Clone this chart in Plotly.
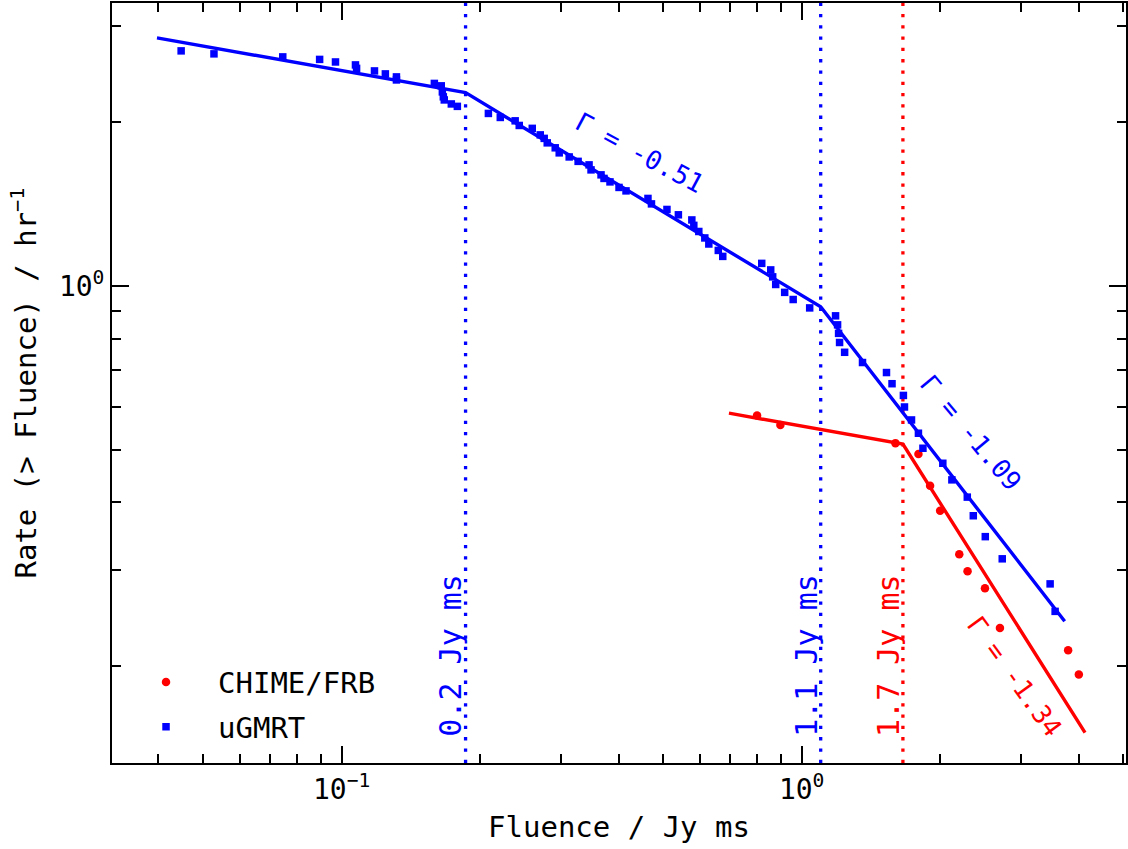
import numpy as np
import plotly.graph_objects as go

# Cumulative burst rate above a given fluence
chime_fluence = [0.800, 0.899, 1.599, 1.794, 1.902, 2.000, 2.201, 2.294, 2.503, 2.698, 3.795, 4.004]
chime_rate = [0.578, 0.555, 0.514, 0.491, 0.429, 0.386, 0.321, 0.299, 0.278, 0.235, 0.214, 0.193]

ugmrt_fluence = [0.0448, 0.0528, 0.0745, 0.0896, 0.0970, 0.1072, 0.1078, 0.1179, 0.1245, 0.1316,
                 0.1316, 0.1591, 0.1647, 0.1656, 0.1664, 0.1672, 0.1732, 0.1785, 0.2085, 0.2213,
                 0.2384, 0.2433, 0.2597, 0.2703, 0.2757, 0.2799, 0.2913, 0.2972, 0.3124, 0.3267,
                 0.3451, 0.3485, 0.3664, 0.3719, 0.3832, 0.4009, 0.4152, 0.4634, 0.4716, 0.5096,
                 0.5396, 0.5772, 0.5829, 0.5977, 0.6159, 0.6284, 0.6589, 0.6738, 0.8189, 0.8566,
                 0.8651, 0.8782, 0.9186, 0.9585, 1.041, 1.185, 1.197, 1.203, 1.209, 1.240,
                 1.356, 1.529, 1.572, 1.664, 1.673, 1.733, 1.794, 1.835, 2.027, 2.121,
                 2.291, 2.361, 2.507, 2.729, 3.468, 3.556]
ugmrt_rate = [2.704, 2.670, 2.636, 2.608, 2.580, 2.548, 2.511, 2.484, 2.453, 2.422,
              2.391, 2.356, 2.332, 2.273, 2.226, 2.197, 2.160, 2.138, 2.075, 2.040,
              2.011, 1.972, 1.948, 1.895, 1.867, 1.832, 1.794, 1.756, 1.726, 1.694,
              1.669, 1.634, 1.600, 1.576, 1.553, 1.517, 1.495, 1.448, 1.415, 1.382,
              1.351, 1.322, 1.292, 1.259, 1.225, 1.194, 1.162, 1.133, 1.100, 1.070,
              1.039, 1.006, 0.973, 0.944, 0.911, 0.881, 0.848, 0.818, 0.787, 0.755,
              0.723, 0.693, 0.661, 0.629, 0.599, 0.567, 0.536, 0.503, 0.472, 0.440,
              0.409, 0.378, 0.346, 0.315, 0.2833, 0.2522]

# Broken power-law fits: break fluences, indices per segment, rate at first break
ugmrt_breaks = [0.186, 1.10]
ugmrt_gammas = [-0.15, -0.51, -1.09]
ugmrt_rate_at_break = 2.266
ugmrt_fit_span = [0.0397, 3.73]

chime_breaks = [1.66]
chime_gammas = [-0.15, -1.34]
chime_rate_at_break = 0.512
chime_fit_span = [0.695, 4.13]

break_labels = ["0.2 Jy ms", "1.1 Jy ms", "1.7 Jy ms"]
break_values = [0.186, 1.10, 1.66]
break_colors = ["#0000ff", "#0000ff", "#ff0000"]

x_range_log = [-1.499, 0.705]
y_range_log = [-0.877, 0.520]

BLUE = "#0000ff"
RED = "#ff0000"
FONT = "DejaVu Sans Mono"


def broken_power_law(breaks, gammas, rate_at_first_break, span):
    """Vertices of a piecewise power law passing through rate_at_first_break at breaks[0]."""
    xs = [span[0]] + list(breaks) + [span[1]]
    rates = {0: rate_at_first_break}
    for i in range(1, len(breaks)):
        rates[i] = rates[i - 1] * (breaks[i] / breaks[i - 1]) ** gammas[i]
    ys = [rate_at_first_break * (span[0] / breaks[0]) ** gammas[0]]
    ys += [rates[i] for i in range(len(breaks))]
    ys.append(rates[len(breaks) - 1] * (span[1] / breaks[-1]) ** gammas[-1])
    return np.array(xs), np.array(ys)


ux, uy = broken_power_law(ugmrt_breaks, ugmrt_gammas, ugmrt_rate_at_break, ugmrt_fit_span)
cx, cy = broken_power_law(chime_breaks, chime_gammas, chime_rate_at_break, chime_fit_span)

fig = go.Figure()

fig.add_trace(go.Scatter(
    x=chime_fluence, y=chime_rate, mode="markers", name="CHIME/FRB",
    marker=dict(symbol="circle", size=8.5, color=RED), legendgroup="a",
))
fig.add_trace(go.Scatter(
    x=cx, y=cy, mode="lines", line=dict(color=RED, width=3.4),
    showlegend=False, hoverinfo="skip",
))

# vertical markers at the break fluences
y_lo, y_hi = 10 ** y_range_log[0], 10 ** y_range_log[1]
for v, c in zip(break_values, break_colors):
    fig.add_trace(go.Scatter(
        x=[v, v], y=[y_lo, y_hi], mode="lines",
        line=dict(color=c, width=3.3, dash="3.3px,8px"),
        showlegend=False, hoverinfo="skip",
    ))

fig.add_trace(go.Scatter(
    x=ugmrt_fluence, y=ugmrt_rate, mode="markers", name="uGMRT",
    marker=dict(symbol="square", size=7.5, color=BLUE), legendgroup="b",
))
fig.add_trace(go.Scatter(
    x=ux, y=uy, mode="lines", line=dict(color=BLUE, width=3.4),
    showlegend=False, hoverinfo="skip",
))

annotations = []
for lab, v, c in zip(break_labels, break_values, break_colors):
    annotations.append(dict(
        x=np.log10(v), xref="x", y=0.142, yref="paper", text=lab, showarrow=False,
        textangle=-90, xshift=-15, font=dict(family=FONT, size=30, color=c),
        xanchor="center", yanchor="middle",
    ))

gamma_labels = [
    dict(text="Γ = -0.51", x=-0.3518, y=0.2439, angle=28, color=BLUE),
    dict(text="Γ = -1.09", x=0.3677, y=-0.2708, angle=50, color=BLUE),
    dict(text="Γ = -1.34", x=0.4636, y=-0.7182, angle=54, color=RED),
]
for g in gamma_labels:
    annotations.append(dict(
        x=g["x"], y=g["y"], xref="x", yref="y", text=g["text"], showarrow=False,
        textangle=g["angle"], font=dict(family=FONT, size=26, color=g["color"]),
        xanchor="center", yanchor="middle",
    ))

x_minor = [0.04, 0.05, 0.06, 0.07, 0.08, 0.09, 0.2, 0.3, 0.4, 0.5, 0.6, 0.7, 0.8, 0.9, 2, 3, 4, 5]
y_minor = [0.2, 0.3, 0.4, 0.5, 0.6, 0.7, 0.8, 0.9, 2, 3]

axis_common = dict(
    type="log", showgrid=False, zeroline=False,
    showline=True, linecolor="black", linewidth=2, mirror="ticks",
    ticks="inside", ticklen=17, tickwidth=2, tickcolor="black",
    tickfont=dict(family=FONT, size=28, color="black"),
)

fig.update_layout(
    width=1128, height=849,
    margin=dict(l=112, r=0, t=3, b=86),
    paper_bgcolor="white", plot_bgcolor="white",
    font=dict(family=FONT, size=29, color="black"),
    xaxis=dict(
        range=x_range_log, tickmode="array", tickvals=[0.1, 1],
        ticktext=["10<sup>−1</sup>", "10<sup>0</sup>"],
        minor=dict(tickmode="array", tickvals=x_minor, ticks="inside", ticklen=9,
                   tickwidth=1.5, tickcolor="black"),
        title=dict(text="Fluence / Jy ms", font=dict(family=FONT, size=29), standoff=12),
        **axis_common,
    ),
    yaxis=dict(
        range=y_range_log, tickmode="array", tickvals=[1],
        ticktext=["10<sup>0</sup>"],
        minor=dict(tickmode="array", tickvals=y_minor, ticks="inside", ticklen=9,
                   tickwidth=1.5, tickcolor="black"),
        title=dict(text="Rate (> Fluence) / hr<sup>−1</sup>", font=dict(family=FONT, size=29), standoff=14),
        **axis_common,
    ),
    legend=dict(
        x=0.002, y=0.140, xanchor="left", yanchor="top",
        bgcolor="rgba(0,0,0,0)", font=dict(family=FONT, size=29),
        itemwidth=94, tracegroupgap=4,
    ),
    annotations=annotations,
    showlegend=True,
)

fig.write_html("out.html")
